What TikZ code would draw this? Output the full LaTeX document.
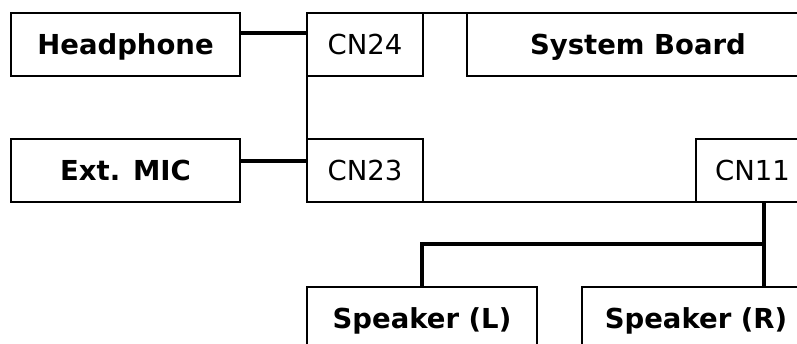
\documentclass[tikz,border=0pt]{standalone}
\usepackage{fontspec}
\setmainfont{DejaVu Sans}
\usetikzlibrary{positioning}

\tikzset{every picture/.style={line width=1.3pt}}

\begin{document}
\begin{tikzpicture}[x=1pt,y=1pt,yscale=-1,xscale=1,
  box/.style={draw, rectangle, outer sep=0pt, minimum height=63pt, inner sep=0pt,
    text height=20pt, text depth=0pt, font=\fontsize{27.5}{32}\selectfont},
  part/.style={box, font=\fontsize{27.5}{32}\selectfont\bfseries},
  wire/.style={line width=4.5pt}]
%set diagram size
\useasboundingbox (0,0) rectangle (797,343);
\clip (0,0) rectangle (797,343);

% Parts
\node (hp) [part, minimum width=229pt] at (125.5,44.5) {Headphone};
\node (mic) [part, minimum width=229pt] at (125.5,170.5) {Ext. MIC};
\node (spl) [part, minimum width=230pt] at (422,318.5) {Speaker (L)};
\node (spr) [part, minimum width=228pt] at (696,318.5) {Speaker (R)};

% System board and connectors
\node (cn24) [box, minimum width=116pt] at (365,44.5) {CN24};
\node (cn23) [box, minimum width=116pt] at (365,170.5) {CN23};
\node (cn11) [box, minimum width=113pt] at (752.5,170.5) {CN11};
\node (sb) [part, minimum width=342pt] at (638,44.5) {System Board};
%Shape: Rectangle
\draw (cn24.north west) rectangle (cn11.south east);

% Connection
\draw [wire] ([yshift=20pt]hp.north east) -- ([yshift=20pt]cn24.north west);
% Connection
\draw [wire] ([yshift=22pt]mic.north east) -- ([yshift=22pt]cn23.north west);
% Connection
\coordinate (jn) at (764,244);
\draw [wire] (cn11.south -| jn) -- (spr.north -| jn);
\draw [wire] (jn) -| (spl.north);

\end{tikzpicture}
\end{document}
